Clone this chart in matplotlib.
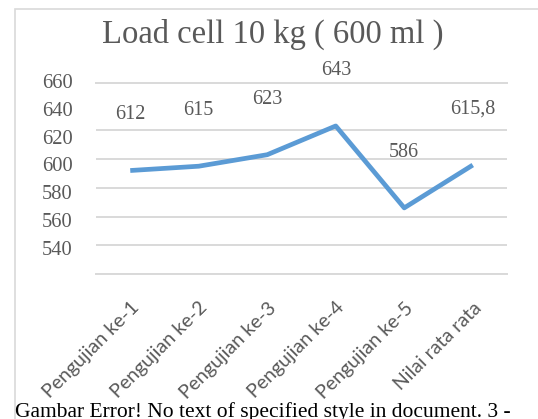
import matplotlib
matplotlib.use("Agg")
import matplotlib.pyplot as plt
from matplotlib.patches import Rectangle

# ---- data ----
categories = ["Pengujian ke-1", "Pengujian ke-2", "Pengujian ke-3",
              "Pengujian ke-4", "Pengujian ke-5", "Nilai rata rata"]
values = [612, 615, 623, 643, 586, 615.8]
value_labels = ["612", "615", "623", "643", "586", "615,8"]
grid_ticks = [540, 560, 580, 600, 620, 640]
axis_tick_labels = [540, 560, 580, 600, 620, 640, 660]
title = "Load cell 10 kg ( 600 ml )"
caption = "Gambar Error! No text of specified style in document. 3 -"

W, H = 538, 419
TXT = "#595959"
GRID = "#D9D9D9"
LINE = "#5B9BD5"

fig = plt.figure(figsize=(W / 100, H / 100), dpi=100)

# chart frame (only top/left visible inside the image)
fig.patches.append(Rectangle((15 / W, -0.1), 1.2, (1 - 9 / H) + 0.1,
                             transform=fig.transFigure, fill=False,
                             edgecolor=GRID, linewidth=1.2))

left, right = 96 / W, 507 / W
bottom, top = 1 - 274 / H, 1 - 82.7 / H
ax = fig.add_axes([left, bottom, right - left, top - bottom])
ax.set_facecolor("none")

x = list(range(len(categories)))
ax.plot(x, values, color=LINE, linewidth=3.4, solid_joinstyle="round",
        solid_capstyle="butt", zorder=3)

for xi, v, lab in zip(x, values, value_labels):
    ax.annotate(lab, (xi, v), xytext=(0, 40), textcoords="offset points",
                ha="center", va="center", fontsize=14.5,
                family="Liberation Serif", color=TXT)

ax.set_xlim(-0.5, len(categories) - 0.5)
ax.set_ylim(540, 673.1)
ax.set_yticks(grid_ticks)
ax.yaxis.grid(True, color=GRID, linewidth=1.4)
ax.set_axisbelow(True)
ax.tick_params(axis="y", length=0, labelleft=False)
ax.set_xticks(x)
ax.set_xticklabels(categories, rotation=45, ha="right",
                   rotation_mode="anchor", fontsize=14,
                   family="Lato", color=TXT)
ax.tick_params(axis="x", length=0, pad=18)
for s in ["left", "right"]:
    ax.spines[s].set_visible(False)
ax.spines["top"].set_color(GRID)
ax.spines["top"].set_linewidth(1.4)
ax.spines["bottom"].set_color(GRID)
ax.spines["bottom"].set_linewidth(1.4)

# value axis labels (drawn on their own scale, as in the original)
b2, t2 = 1 - 274 / H, 1 - 80 / H
ax2 = fig.add_axes([left, b2, right - left, t2 - b2])
ax2.set_facecolor("none")
ax2.set_ylim(521.6, 660.5)
ax2.set_yticks(axis_tick_labels)
ax2.set_yticklabels([str(t) for t in axis_tick_labels],
                    fontsize=14.8, family="Liberation Serif", color=TXT)
ax2.tick_params(axis="y", length=0, pad=17)
ax2.set_xticks([])
for s in ax2.spines.values():
    s.set_visible(False)

fig.text(273 / W, 1 - 34 / H, title, ha="center", va="center",
         fontsize=23.5, family="Liberation Serif", color=TXT)

fig.text(15 / W, 2 / H, caption, ha="left", va="baseline",
         fontsize=15.5, family="Liberation Serif", color="black")

fig.savefig("out.png", dpi=100)
